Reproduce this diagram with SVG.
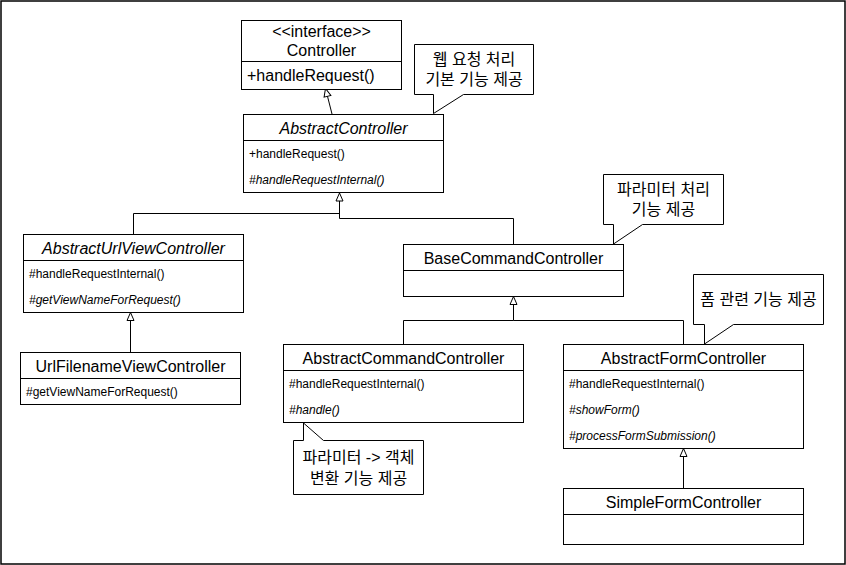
<svg xmlns="http://www.w3.org/2000/svg" width="846" height="565" viewBox="0 0 846 565">
<style>
.box{fill:#fff;stroke:#000;stroke-width:1}
.ln{fill:none;stroke:#000;stroke-width:1}
.t{font-family:"Liberation Sans",Arial,sans-serif;font-size:16px;fill:#000;text-anchor:middle}
.m{font-family:"Liberation Sans",Arial,sans-serif;font-size:12px;fill:#000}
.k{font-family:"Liberation Sans","Noto Sans CJK KR",sans-serif;font-size:16px;fill:#000;text-anchor:middle}
.i{font-style:italic}
</style>
<defs>
<marker id="tri" markerWidth="12" markerHeight="10" refX="9" refY="4.5" orient="auto" markerUnits="userSpaceOnUse">
<path d="M1,1 L9,4.5 L1,8 Z" fill="#fff" stroke="#000" stroke-width="1"/>
</marker>
</defs>
<rect x="1" y="1" width="844" height="563" fill="#fff" stroke="#000" stroke-width="1.5"/>

<g id="connectors">
<path class="ln" d="M332,114 L325.5,88.5" marker-end="url(#tri)"/>
<path class="ln" d="M133.5,234 L133.5,213.5 L339.5,213.5"/>
<path class="ln" d="M513.5,244 L513.5,218.5 L339.5,218.5 L339.5,193" marker-end="url(#tri)"/>
<path class="ln" d="M130.5,352 L130.5,312.5" marker-end="url(#tri)"/>
<path class="ln" d="M403.5,344 L403.5,320.5 L513.5,320.5"/>
<path class="ln" d="M683.5,344 L683.5,320.5 L513.5,320.5 L513.5,296.5" marker-end="url(#tri)"/>
<path class="ln" d="M683.5,488 L683.5,448.5" marker-end="url(#tri)"/>
</g>

<g id="Controller">
<rect class="box" x="241.5" y="20.5" width="160" height="69"/>
<line class="ln" x1="241.5" y1="61.5" x2="401.5" y2="61.5"/>
<text class="t" x="321.5" y="37">&lt;&lt;interface&gt;&gt;</text>
<text class="t" x="321.5" y="56">Controller</text>
<text class="t" x="247" y="81" style="text-anchor:start">+handleRequest()</text>
</g>

<g id="note1">
<path class="box" d="M414.5,44.5 L533.5,44.5 L533.5,94.5 L463.5,94.5 L433.5,113.5 L433.5,94.5 L414.5,94.5 Z"/>
<text class="k" x="474" y="65">웹 요청 처리</text>
<text class="k" x="474" y="85">기본 기능 제공</text>
</g>

<g id="AbstractController">
<rect class="box" x="243.5" y="114.5" width="200" height="78"/>
<line class="ln" x1="243.5" y1="140.5" x2="443.5" y2="140.5"/>
<text class="t i" x="343.5" y="134">AbstractController</text>
<text class="m" x="249" y="158">+handleRequest()</text>
<text class="m i" x="249" y="184">#handleRequestInternal()</text>
</g>

<g id="AbstractUrlViewController">
<rect class="box" x="23.5" y="234.5" width="220" height="78"/>
<line class="ln" x1="23.5" y1="260.5" x2="243.5" y2="260.5"/>
<text class="t i" x="133.5" y="254">AbstractUrlViewController</text>
<text class="m" x="29" y="278">#handleRequestInternal()</text>
<text class="m i" x="29" y="304">#getViewNameForRequest()</text>
</g>

<g id="UrlFilenameViewController">
<rect class="box" x="20.5" y="352.5" width="220" height="52"/>
<line class="ln" x1="20.5" y1="378.5" x2="240.5" y2="378.5"/>
<text class="t" x="130.5" y="372">UrlFilenameViewController</text>
<text class="m" x="26" y="396">#getViewNameForRequest()</text>
</g>

<g id="note2">
<path class="box" d="M603.5,174.5 L723.5,174.5 L723.5,224.5 L642.5,224.5 L613.5,244 L613.5,224.5 L603.5,224.5 Z"/>
<text class="k" x="663.5" y="195">파라미터 처리</text>
<text class="k" x="663.5" y="215">기능 제공</text>
</g>

<g id="BaseCommandController">
<rect class="box" x="403.5" y="244.5" width="220" height="52"/>
<line class="ln" x1="403.5" y1="270.5" x2="623.5" y2="270.5"/>
<text class="t" x="513.5" y="264">BaseCommandController</text>
</g>

<g id="note4">
<path class="box" d="M693.5,274.5 L823.5,274.5 L823.5,324.5 L733.5,324.5 L704.5,344 L704.5,324.5 L693.5,324.5 Z"/>
<text class="k" x="758.5" y="305">폼 관련 기능 제공</text>
</g>

<g id="AbstractCommandController">
<rect class="box" x="283.5" y="344.5" width="240" height="78"/>
<line class="ln" x1="283.5" y1="370.5" x2="523.5" y2="370.5"/>
<text class="t" x="403.5" y="364">AbstractCommandController</text>
<text class="m" x="289" y="388">#handleRequestInternal()</text>
<text class="m i" x="289" y="414">#handle()</text>
</g>

<g id="note3">
<path class="box" d="M293.5,440.5 L303.5,440.5 L303.5,423 L323.5,440.5 L423.5,440.5 L423.5,494.5 L293.5,494.5 Z"/>
<text class="k" x="358.5" y="463">파라미터 -&gt; 객체</text>
<text class="k" x="358.5" y="484">변환 기능 제공</text>
</g>

<g id="AbstractFormController">
<rect class="box" x="563.5" y="344.5" width="240" height="104"/>
<line class="ln" x1="563.5" y1="370.5" x2="803.5" y2="370.5"/>
<text class="t" x="683.5" y="364">AbstractFormController</text>
<text class="m" x="569" y="388">#handleRequestInternal()</text>
<text class="m i" x="569" y="414">#showForm()</text>
<text class="m i" x="569" y="440">#processFormSubmission()</text>
</g>

<g id="SimpleFormController">
<rect class="box" x="563.5" y="488.5" width="240" height="56"/>
<line class="ln" x1="563.5" y1="514.5" x2="803.5" y2="514.5"/>
<text class="t" x="683.5" y="508">SimpleFormController</text>
</g>
</svg>
